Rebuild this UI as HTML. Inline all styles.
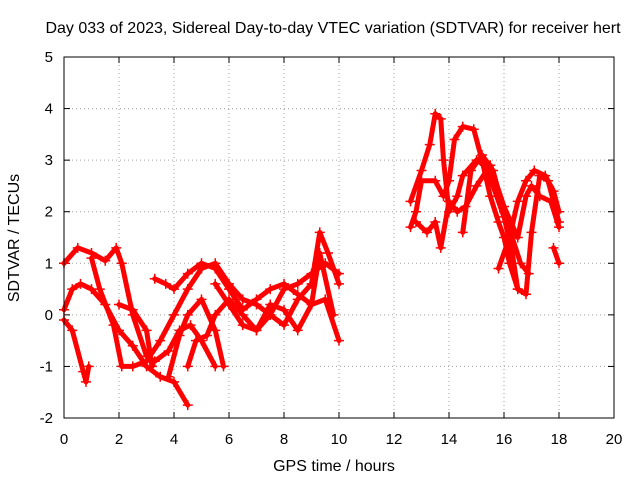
<!DOCTYPE html>
<html><head><meta charset="utf-8"><style>
body{margin:0;background:#fff}
svg{display:block;font-family:"Liberation Sans",sans-serif}
</style></head><body>
<svg id="chart" width="640" height="480" xmlns="http://www.w3.org/2000/svg">
<text x="333" y="33" font-size="16" text-anchor="middle">Day 033 of 2023, Sidereal Day-to-day VTEC variation (SDTVAR) for receiver hert</text>
<text x="334" y="471" font-size="16" text-anchor="middle">GPS time / hours</text>
<text transform="translate(19,238) rotate(-90)" font-size="16" text-anchor="middle">SDTVAR / TECUs</text>
<g id="grid"></g><g id="ticks"></g><g id="series"></g>
<rect x="64" y="57" width="550" height="361" fill="none" stroke="#000" stroke-width="1"/>
</svg>
<script>
const xTicks=[0,2,4,6,8,10,12,14,16,18,20];
const yTicks=[-2,-1,0,1,2,3,4,5];
const s1=[[0,1.0],[0.5,1.3],[1,1.2],[1.5,1.05],[1.9,1.3],[2.1,1.0],[2.5,0],[3,-0.8],[3.3,-0.9],[3.8,-0.7],[4.2,-0.3],[4.6,-0.2],[5,-0.5],[5.5,-1.0]];
const s2=[[0,0.1],[0.3,0.5],[0.6,0.6],[1,0.5],[1.5,0.2],[2,-0.3],[2.5,-0.6],[3,-1.0],[3.5,-1.2],[4,-1.3],[4.5,-1.75]];
const s3=[[0,-0.1],[0.3,-0.3],[0.7,-1.1],[0.8,-1.3],[0.9,-1.0]];
const s4=[[1,1.1],[1.3,0.5],[1.8,-0.2],[2.1,-1.0],[2.5,-1.0],[3,-0.9],[3.5,-0.5],[4,0],[4.5,0.5],[5,0.9],[5.5,1.0],[6,0.6],[6.5,0.3],[7,0.2],[7.5,0.0],[8,-0.2],[8.5,0.3],[9,0.6],[9.3,1.6],[9.6,1.2],[10,0.6]];
const s5=[[2,0.2],[2.5,0.1],[3,-0.3],[3.2,-1.0]];
const s6=[[3.3,0.7],[3.7,0.6],[4,0.5],[4.5,0.8],[5,1.0],[5.5,0.9],[6,0.5],[6.5,0.1],[7,0.3],[7.5,0.5],[8,0.6],[8.5,0.4],[9,0.2],[9.5,0.3],[10,-0.5]];
const s7=[[3.8,-1.2],[4.2,-0.4],[4.5,0],[5,0.3],[5.5,-0.3],[5.8,-1.0]];
const s8=[[4.5,-1.0],[4.8,-0.5],[5.2,-0.4],[5.5,0],[6,0.3],[6.5,0],[7,-0.3],[7.5,0],[8,0.5],[8.5,0.6],[9,0.8],[9.5,1.0],[10,0.8]];
const s9=[[5.5,0.6],[6,0.2],[6.5,-0.2],[7,-0.3],[7.5,0.2],[8,0.1],[8.5,-0.3],[9,0.2],[9.3,1.2],[9.8,0.0]];
const r1=[[12.6,2.2],[13,2.8],[13.3,3.3],[13.5,3.9],[13.7,3.8],[13.8,3.0],[14,2.0],[14.3,2.3],[14.5,2.7],[15,3.0],[15.3,2.9],[15.6,2.5],[16,1.9],[16.3,1.2],[16.5,0.5],[16.8,0.4],[17,1.6],[17.3,2.7],[17.6,2.6],[18,1.8]];
const r2=[[12.6,1.7],[12.8,2.0],[13,2.6],[13.5,2.6],[13.8,2.3],[14,2.6],[14.2,3.4],[14.5,3.65],[14.9,3.6],[15.2,3.0],[15.5,2.3],[15.8,1.8],[16,1.5],[16.2,1.0],[16.5,0.5]];
const r3=[[12.8,1.8],[13.2,1.6],[13.5,1.8],[13.7,1.3],[14,2.2],[14.3,2.0],[14.6,2.1],[15,2.5],[15.5,2.9],[16,2.1],[16.5,1.5],[16.8,2.3],[17,2.5],[17.3,2.3],[17.7,2.2],[18,1.7]];
const r4=[[14.5,1.6],[14.8,2.8],[15.2,3.1],[15.6,2.8],[16,2.0],[16.3,1.5],[16.6,1.0],[16.9,0.8]];
const r5=[[15.8,0.9],[16.2,1.5],[16.5,2.2],[16.8,2.6],[17.1,2.8],[17.5,2.7],[17.8,2.4],[18,2.0]];
const r6=[[17.8,1.3],[18,1.0]];
const allSeries=[s1,s2,s3,s4,s5,s6,s7,s8,s9,r1,r2,r3,r4,r5,r6];

const X0=64,X1=614,Y0=418,Y1=57;
const xs=v=>X0+(v-0)/(20-0)*(X1-X0);
const ys=v=>Y0-(v+2)/(5+2)*(Y0-Y1);
const NS="http://www.w3.org/2000/svg";
function mk(tag,attrs,parent){const e=document.createElementNS(NS,tag);for(const k in attrs)e.setAttribute(k,attrs[k]);parent.appendChild(e);return e;}
const grid=document.getElementById('grid'),ticks=document.getElementById('ticks'),ser=document.getElementById('series');
xTicks.forEach(t=>{
  const x=xs(t);
  if(t>0&&t<20){const g=mk('line',{x1:x,x2:x,y1:Y1,y2:Y0,stroke:'#a0a0a0','stroke-dasharray':'1,3'},grid);
  
  }
  mk('line',{x1:x,x2:x,y1:Y0,y2:Y0-6,stroke:'#000'},ticks);
  mk('line',{x1:x,x2:x,y1:Y1,y2:Y1+6,stroke:'#000'},ticks);
  const l=mk('text',{x:x,y:Y0+26,'font-size':15,'text-anchor':'middle'},ticks);
  l.textContent=t;
  
  
});
yTicks.forEach(t=>{
  const y=ys(t);
  if(t>-2&&t<5){const g=mk('line',{x1:X0,x2:X1,y1:y,y2:y,stroke:'#a0a0a0','stroke-dasharray':'1,3'},grid);
  
  }
  mk('line',{x1:X0,x2:X0+6,y1:y,y2:y,stroke:'#000'},ticks);
  mk('line',{x1:X1,x2:X1-6,y1:y,y2:y,stroke:'#000'},ticks);
  const l=mk('text',{x:X0-11,y:y+5,'font-size':15,'text-anchor':'end'},ticks);
  l.textContent=t;
  
  
});
allSeries.forEach((s,i)=>{
  const p=mk('polyline',{points:s.map(d=>xs(d[0])+','+ys(d[1])).join(' '),fill:'none',stroke:'#f00','stroke-width':5,'stroke-linejoin':'round','stroke-linecap':'round'},ser);
  
  
  s.forEach(d=>{
    const x=xs(d[0]),y=ys(d[1]);
    const m=mk('path',{d:`M${x-5},${y}H${x+5}M${x},${y-5}V${y+5}`,stroke:'#f00','stroke-width':1.5},ser);
    
    
  });
});
</script>
</body></html>
